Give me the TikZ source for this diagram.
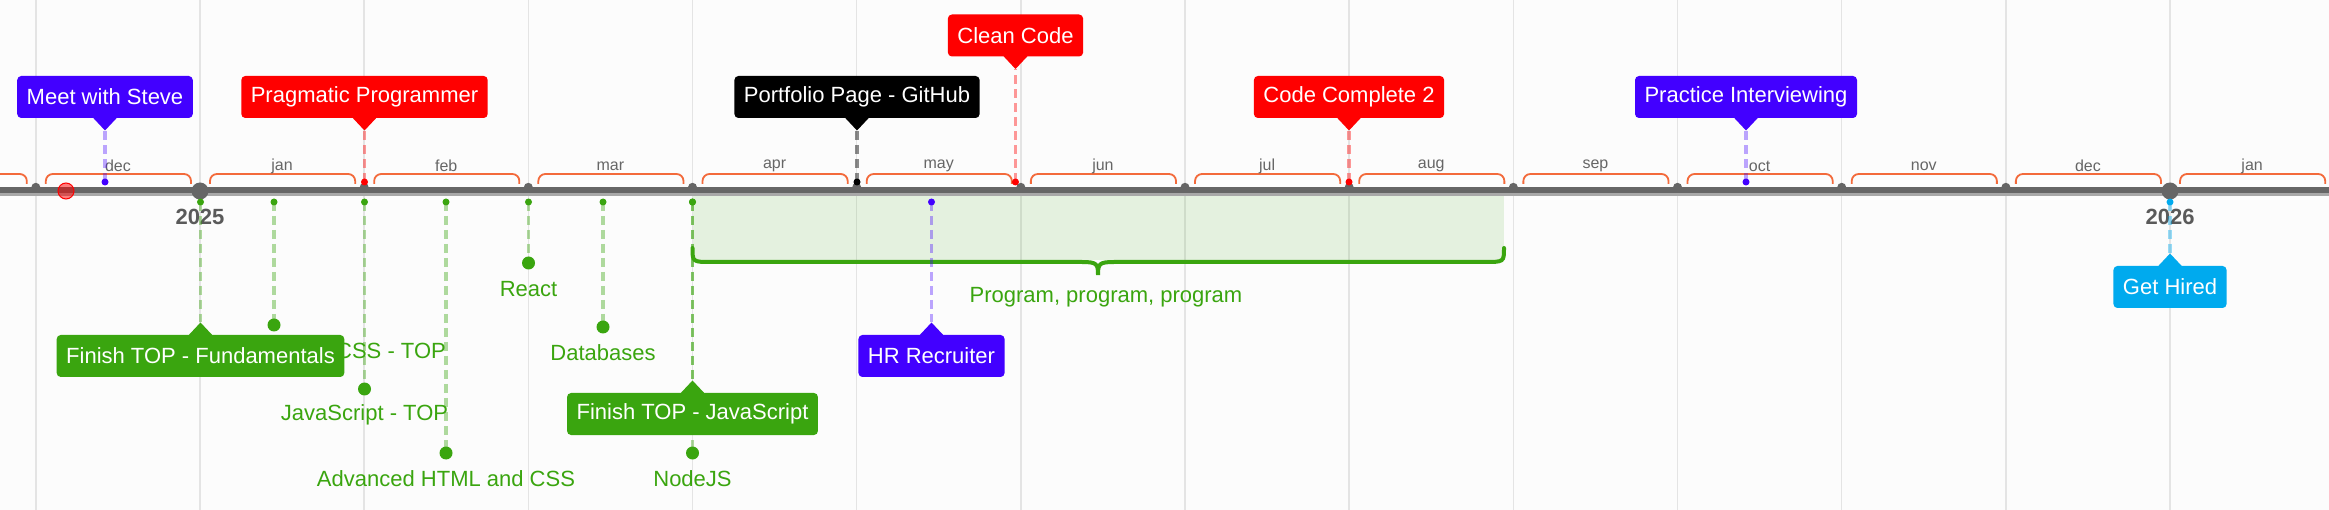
\documentclass[tikz,border=0pt]{standalone}
\usepackage{fontspec}
\setmainfont{Liberation Sans}
\usetikzlibrary{calc}
\definecolor{evblue}{HTML}{4200FF}
\definecolor{evred}{HTML}{FF0000}
\definecolor{evgreen}{HTML}{3AA50F}
\definecolor{evcyan}{HTML}{00AAEE}
\definecolor{axisgray}{HTML}{666666}
\definecolor{axislight}{HTML}{A8A8A8}
\definecolor{gridgray}{HTML}{E4E4E4}
\definecolor{yeargray}{HTML}{5A5A5A}
\definecolor{brk}{HTML}{F36A3B}
\definecolor{bgc}{HTML}{FCFCFC}
\tikzset{
  evbox/.style={rounded corners=4pt, text=white, font=\fontsize{22}{26}\selectfont, inner xsep=9.5pt, inner ysep=0pt, minimum height=42pt},
  evline/.style={line width=3.6pt, dash pattern=on 9pt off 5pt},
  evlabel/.style={font=\fontsize{22}{26}\selectfont, text=evgreen, inner sep=0pt},
  monthlbl/.style={font=\fontsize{16}{18}\selectfont, text=axisgray, inner sep=0pt},
  yearlbl/.style={font=\bfseries\fontsize{22}{26}\selectfont, text=yeargray, inner sep=0pt},
}
\begin{document}
\begin{tikzpicture}[x=1pt,y=-1pt]
\fill[bgc] (0,0) rectangle (2329,510);
\useasboundingbox (0,0) rectangle (2329,510);
% grid
\foreach \k in {-1,...,13}{
  \pgfmathsetmacro{\bx}{200+164.17*\k}
  \draw[gridgray, line width=1.5pt] (\bx,0) -- (\bx,510);
}
% range
\fill[evgreen, fill opacity=0.12] (692.5,196) rectangle (1504,260);
\draw[evgreen, line width=4pt, line cap=round]
  (692.5,248) .. controls (692.5,262) and (692.5,262) .. (712,262) -- (1082,262)
  .. controls (1097,262) and (1098,264) .. (1098,275)
  .. controls (1098,264) and (1099,262) .. (1114,262) -- (1484,262)
  .. controls (1504,262) and (1504,262) .. (1504,248);
\node[evlabel] (prog) at (1106,297) {Program, program, program};
% axis
\draw[axislight, line width=2.7pt] (0,194.7) -- (2329,194.7);
\draw[axisgray, line width=6pt] (0,190.3) -- (2329,190.3);
% month brackets
\foreach \k in {-2,...,12}{
  \pgfmathsetmacro{\ms}{200+164.17*\k+10}
  \pgfmathsetmacro{\me}{200+164.17*(\k+1)-9}
  \draw[brk, line width=1.8pt, rounded corners=7pt] (\ms,184) -- (\ms,174) -- (\me,174) -- (\me,184);
}
% month labels
\foreach \k/\m in {-1/dec,0/jan,1/feb,2/mar,3/apr,4/may,5/jun,6/jul,7/aug,8/sep,9/oct,10/nov,11/dec,12/jan}{
  \pgfmathsetmacro{\mc}{200+164.17*(\k+0.5)}
  \node[monthlbl] (m\k) at (\mc,166) {\m};
}
% month dots
\foreach \k in {-1,1,2,...,11}{
  \pgfmathsetmacro{\bx}{200+164.17*\k}
  \fill[axisgray] (\bx,187.3) circle (4.5pt);
}
\fill[axisgray] (200,191) circle (8.5pt);
\fill[axisgray] (2170,191) circle (8.5pt);
\node[yearlbl] (y2025) at (200,217) {2025};
\node[yearlbl] (y2026) at (2170,217) {2026};
% today marker
\node[circle, fill=evred, fill opacity=0.5, draw=evred, line width=1pt, minimum size=16pt, inner sep=0pt] (today) at (66,191) {};
% upper event connectors
\foreach \n/\x/\t/\c/\o in {steve/105/130.5/evblue/0.35, prag/364.5/130.5/evred/0.4, port/857/130.5/black/0.45, clean/1015.5/69/evred/0.4, cc/1349/130.5/evred/0.4, prac/1746/130.5/evblue/0.35}{
  \coordinate (\n tip) at (\x,\t);
  \coordinate (\n dot) at (\x,182);
  \draw[evline, draw=\c, draw opacity=\o] (\n dot) -- (\n tip);
  \fill[\c] (\n dot) circle (3.5pt);
}
% lower connectors (boxes)
\foreach \n/\x/\t/\c/\o in {fund/200.5/322.5/evgreen/0.4, finjs/692.5/380.5/evgreen/0.4, hr/931.5/322.5/evblue/0.35, hired/2170/253.5/evcyan/0.4}{
  \coordinate (\n tip) at (\x,\t);
  \coordinate (\n dot) at (\x,202);
  \draw[evline, draw=\c, draw opacity=\o] (\n dot) -- (\n tip);
  \fill[\c] (\n dot) circle (3.5pt);
}
% lower green dot items
\foreach \n/\x/\y in {css/274/325, js/364.5/389, adv/446/453, react/528.5/263, db/603/327, nodejs/692.5/453}{
  \coordinate (\n top) at (\x,202);
  \coordinate (\n pt) at (\x,\y);
  \draw[evline, draw=evgreen, draw opacity=0.4] (\n top) -- (\n pt);
  \fill[evgreen] (\n top) circle (3.5pt);
  \fill[evgreen] (\n pt) circle (6.5pt);
}
\node[evlabel, anchor=east] (csslbl) at (446,351) {CSS - TOP};
\node[evlabel] (jslbl) at (364.5,415) {JavaScript - TOP};
\node[evlabel] (advlbl) at (446,479) {Advanced HTML and CSS};
\node[evlabel] (reactlbl) at (528.5,289) {React};
\node[evlabel] (dblbl) at (603,353) {Databases};
\node[evlabel] (nodelbl) at (692.5,479) {NodeJS};
% upper boxes
\foreach \n/\x/\y/\c/\t in {steve/105/97/evblue/Meet with Steve, prag/364.5/97/evred/Pragmatic Programmer, port/857/97/black/Portfolio Page - GitHub, clean/1015.5/35.5/evred/Clean Code, cc/1349/97/evred/Code Complete 2, prac/1746/97/evblue/Practice Interviewing}{
  \node[evbox, fill=\c] (\n) at (\x,\y) {\t};
  \fill[\c] ([xshift=-12pt,yshift=0.5pt]\n.south) -- ([xshift=12pt,yshift=0.5pt]\n.south) -- (\n tip) -- cycle;
}
% lower boxes
\foreach \n/\x/\y/\c/\t in {fund/200.5/356/evgreen/Finish TOP - Fundamentals, finjs/692.5/414/evgreen/Finish TOP - JavaScript, hr/931.5/356/evblue/HR Recruiter, hired/2170/287/evcyan/Get Hired}{
  \node[evbox, fill=\c] (\n) at (\x,\y) {\t};
  \fill[\c] ([xshift=-12pt,yshift=-0.5pt]\n.north) -- ([xshift=12pt,yshift=-0.5pt]\n.north) -- (\n tip) -- cycle;
}
\end{tikzpicture}
\end{document}
